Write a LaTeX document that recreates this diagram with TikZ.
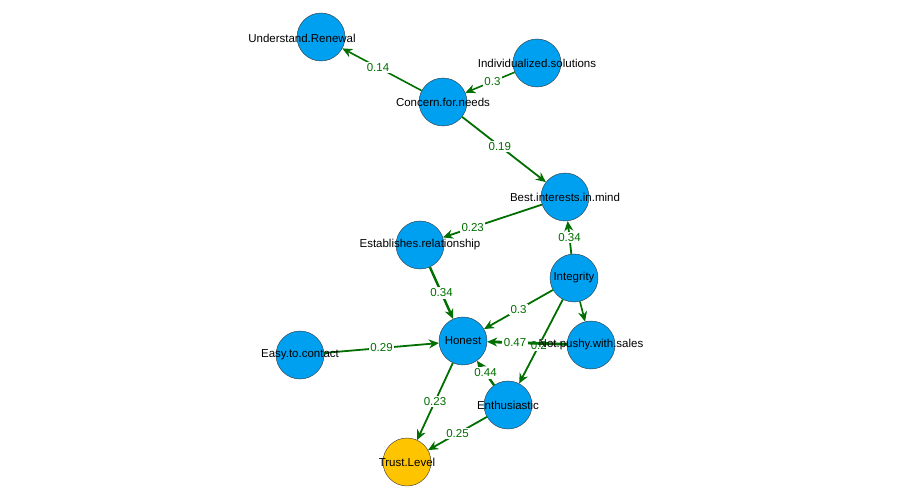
\documentclass[tikz,border=0pt]{standalone}
\usepackage{fontspec}
\setmainfont{Liberation Sans}
\usetikzlibrary{arrows.meta}
\definecolor{nblue}{RGB}{0,160,240}
\definecolor{ngold}{RGB}{255,196,0}
\definecolor{egreen}{RGB}{0,110,0}
\begin{document}
\begin{tikzpicture}[x=1pt,y=-1pt,
  v/.style={circle,draw=black!80,fill=nblue,minimum size=48pt,inner sep=0pt},
  t/.style={font=\fontsize{11.5}{13}\selectfont,text=black},
  e/.style={draw=egreen,line width=#1,-{Stealth[length=10pt,width=9pt]}},
  e/.default=1.8pt,
  w/.style={fill=white,text=egreen,font=\fontsize{11.5}{13}\selectfont,inner sep=1.5pt}]
\useasboundingbox (0,0) rectangle (900,500);
\node[v] (ur) at (321,37) {};
\node[v] (is) at (537,63) {};
\node[v] (cn) at (443,102) {};
\node[v] (bi) at (565,197) {};
\node[v] (er) at (420,245) {};
\node[v] (in) at (574,278) {};
\node[v] (ho) at (463,341) {};
\node[v] (ec) at (300,355) {};
\node[v] (np) at (591,345) {};
\node[v] (en) at (508,405) {};
\node[v,fill=ngold] (tl) at (407,462) {};
\path (cn) edge[e=1.6pt] node[w,pos=0.55] {0.14} (ur);
\path (is) edge[e=1.6pt] node[w,pos=0.45] {0.3} (cn);
\path (cn) edge[e=1.8pt] node[w,pos=0.45] {0.19} (bi);
\path (bi) edge[e=1.8pt] node[w,pos=0.7] {0.23} (er);
\path (in) edge[e=1.8pt] node[w] {0.34} (bi);
\path (er) edge[e=2.4pt] node[w] {0.34} (ho);
\path (in) edge[e=1.8pt] node[w] {0.3} (ho);
\path (in) edge[e=1.8pt] node[w,pos=0.55] {0.2} (en);
\path (in) edge[e=1.6pt] (np);
\path (np) edge[e=2.8pt] node[w,pos=0.65] {0.47} (ho);
\path (en) edge[e=2.4pt] node[w] {0.44} (ho);
\path (ec) edge[e=1.8pt] node[w] {0.29} (ho);
\path (ho) edge[e=1.8pt] node[w] {0.23} (tl);
\path (en) edge[e=1.8pt] node[w] {0.25} (tl);
\node[t] at (302,38) {Understand.Renewal};
\node[t] at (is) {Individualized.solutions};
\node[t] at (cn) {Concern.for.needs};
\node[t] at (bi) {Best.interests.in.mind};
\node[t] at (er) {Establishes.relationship};
\node[t] at (in) {Integrity};
\node[t] at (ho) {Honest};
\node[t] at (ec) {Easy.to.contact};
\node[t] at (np) {Not.pushy.with.sales};
\node[t] at (en) {Enthusiastic};
\node[t] at (tl) {Trust.Level};
\end{tikzpicture}
\end{document}
